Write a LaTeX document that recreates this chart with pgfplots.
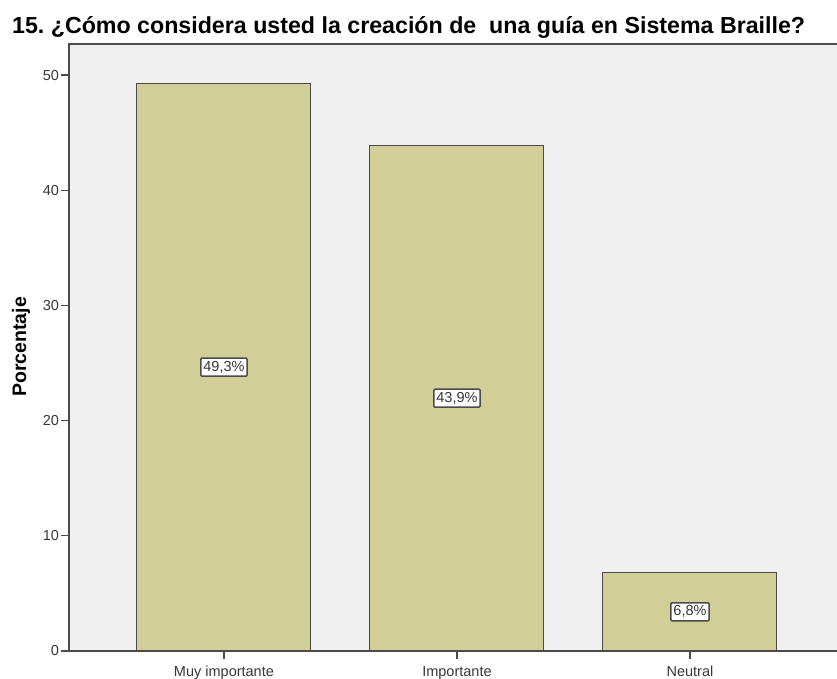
\documentclass[border=0pt]{standalone}
\usepackage{pgfplots}
\pgfplotsset{compat=1.18}
\usetikzlibrary{calc}
\usepackage{fontspec}
\setmainfont{Liberation Sans}
\frenchspacing
\definecolor{bgc}{RGB}{240,240,240}
\definecolor{barc}{RGB}{210,206,152}
\definecolor{edgec}{RGB}{75,75,75}
\definecolor{txtc}{RGB}{55,55,55}
\begin{document}
\begin{tikzpicture}
\begin{axis}[
  scale only axis,
  width=768pt, height=607pt,
  xmin=-0.665, xmax=2.631,
  ymin=0, ymax=52.7,
  ytick={0,10,20,30,40,50},
  xtick={0,1,2},
  xticklabels={Muy importante,Importante,Neutral},
  axis background/.style={fill=bgc},
  axis line style={draw=none},
  tick style={draw=edgec, line width=1.3pt},
  major tick length=8pt,
  tick align=outside,
  xtick pos=bottom, ytick pos=left,
  ticklabel style={font=\fontsize{14.5}{15}\selectfont, text=txtc},
  xticklabel style={yshift=-3.5pt},
  yticklabel style={xshift=1.5pt},
  /pgf/number format/assume math mode=true,
  clip=false,
]
\addplot[ybar, bar width=174pt, fill=barc, draw=edgec, line width=1pt, bar shift=0pt]
  coordinates {(0,49.3) (1,43.9) (2,6.8)};
\addplot[draw=none, mark=none, nodes near coords, point meta=explicit symbolic,
  every node near coord/.append style={anchor=center, fill=white, draw=edgec, line width=1.5pt,
    rounded corners=1pt, font=\fontsize{14.5}{15}\selectfont, text=txtc, inner xsep=2.5pt, inner ysep=3pt}]
  coordinates {(0,24.65) [49,3\%] (1,21.95) [43,9\%] (2,3.4) [6,8\%]};
\coordinate (ll) at (rel axis cs:0,0);
\coordinate (ul) at (rel axis cs:0,1);
\coordinate (lr) at (rel axis cs:1,0);
\coordinate (ur) at (rel axis cs:1,1);
\draw[edgec, line width=1.8pt] (ur) -- (ul) -- (ll) -- (lr);
\end{axis}
\node[anchor=base west, font=\bfseries\fontsize{23.2}{24}\selectfont, inner sep=0pt] at ($(ll)+(-57pt,617pt)$) {15. ¿Cómo considera usted la creación de \ una guía en Sistema Braille?};
\node[rotate=90, font=\bfseries\fontsize{19.5}{21}\selectfont, inner sep=0pt] at ($(ll)+(-48pt,304pt)$) {Porcentaje};
\pgfresetboundingbox
\path ($(ll)+(-69pt,-28pt)$) rectangle ++(837pt,679pt);
\end{tikzpicture}
\end{document}
